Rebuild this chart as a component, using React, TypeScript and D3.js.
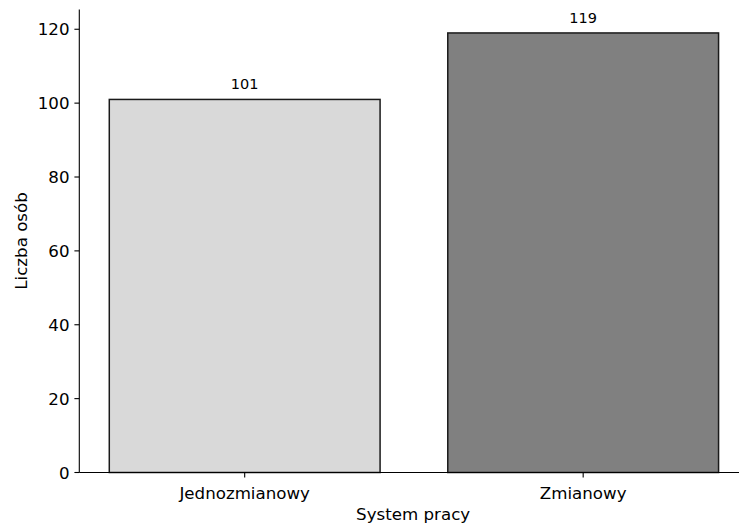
import React from "react";
import * as d3 from "d3";

const categories: string[] = ["Jednozmianowy", "Zmianowy"];
const values: number[] = [101, 119];
const barColors: string[] = ["#d9d9d9", "#808080"];
const yTicks: number[] = [0, 20, 40, 60, 80, 100, 120];
const xLabel = "System pracy";
const yLabel = "Liczba osób";

const W = 739;
const H = 524;
const left = 79.3;
const right = 747;
const top = 9.5;
const bottom = 472.5;
const font = "'DejaVu Sans', sans-serif";

export default function App() {
  const x = d3.scaleLinear().domain([-0.4886, 1.484]).range([left, right]);
  const y = d3.scaleLinear().domain([0, 125.35]).range([bottom, top]);
  const bw = x(0.4) - x(-0.4);
  const tickLen = 4.9;
  return (
    <svg width={W} height={H} style={{ position: "absolute", left: 0, top: 0 }}>
      <rect x={0} y={0} width={W} height={H} fill="#fff" />
      {values.map((v, i) => (
        <g key={categories[i]}>
          <rect
            x={x(i) - bw / 2}
            y={y(v)}
            width={bw}
            height={y(0) - y(v)}
            fill={barColors[i]}
            stroke="#1a1a1a"
            strokeWidth={1.5}
          />
          <text
            x={x(i)}
            y={y(v) - 10}
            textAnchor="middle"
            fontFamily={font}
            fontSize={14.5}
            fill="#000"
          >
            {v}
          </text>
        </g>
      ))}
      <line x1={left} x2={left} y1={top} y2={bottom} stroke="#000" strokeWidth={1.1} />
      <line x1={left} x2={W} y1={bottom} y2={bottom} stroke="#000" strokeWidth={1.1} />
      {yTicks.map((t) => (
        <g key={t}>
          <line x1={left - tickLen} x2={left} y1={y(t)} y2={y(t)} stroke="#000" strokeWidth={1.1} />
          <text
            x={left - tickLen - 4.9}
            y={y(t)}
            dy="0.36em"
            textAnchor="end"
            fontFamily={font}
            fontSize={16.67}
            fill="#000"
          >
            {t}
          </text>
        </g>
      ))}
      {categories.map((c, i) => (
        <g key={c}>
          <line x1={x(i)} x2={x(i)} y1={bottom} y2={bottom + tickLen} stroke="#000" strokeWidth={1.1} />
          <text
            x={x(i)}
            y={498.5}
            textAnchor="middle"
            fontFamily={font}
            fontSize={16.67}
            fill="#000"
          >
            {c}
          </text>
        </g>
      ))}
      <text
        x={(left + right) / 2}
        y={519.8}
        textAnchor="middle"
        fontFamily={font}
        fontSize={16.67}
        fill="#000"
      >
        {xLabel}
      </text>
      <text
        transform={`translate(27.2, ${(top + bottom) / 2}) rotate(-90)`}
        textAnchor="middle"
        fontFamily={font}
        fontSize={16.67}
        fill="#000"
      >
        {yLabel}
      </text>
    </svg>
  );
}
